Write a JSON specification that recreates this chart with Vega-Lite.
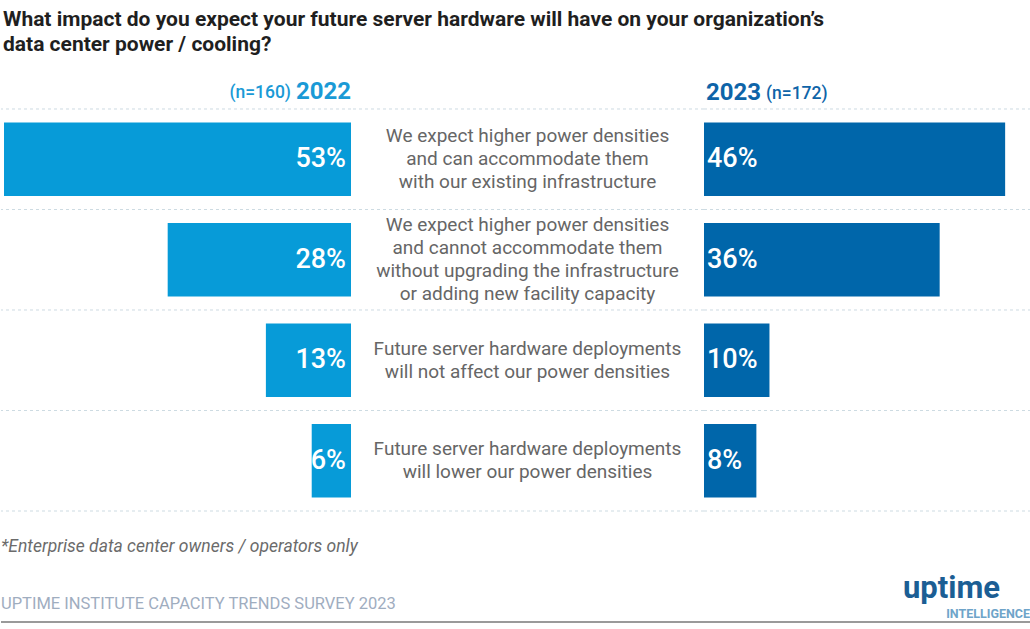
{
  "$schema": "https://vega.github.io/schema/vega-lite/v6.json",
  "padding": {"top": 8, "left": 0, "right": 0, "bottom": 0},
  "background": "white",
  "title": {
    "text": ["What impact do you expect your future server hardware will have on your organization’s", "data center power / cooling?"],
    "anchor": "start",
    "font": "Roboto",
    "fontSize": 21,
    "fontWeight": "bold",
    "color": "#1f1f1f",
    "lineHeight": 25,
    "dx": 3,
    "offset": 25
  },
  "datasets": {
    "rows": [
      {"answer": "We expect higher power densities and can accommodate them with our existing infrastructure", "lines": ["We expect higher power densities", "and can accommodate them", "with our existing infrastructure"], "y2022": 0.53, "y2023": 0.46},
      {"answer": "We expect higher power densities and cannot accommodate them without upgrading the infrastructure or adding new facility capacity", "lines": ["We expect higher power densities", "and cannot accommodate them", "without upgrading the infrastructure", "or adding new facility capacity"], "y2022": 0.28, "y2023": 0.36},
      {"answer": "Future server hardware deployments will not affect our power densities", "lines": ["Future server hardware deployments", "will not affect our power densities"], "y2022": 0.13, "y2023": 0.10},
      {"answer": "Future server hardware deployments will lower our power densities", "lines": ["Future server hardware deployments", "will lower our power densities"], "y2022": 0.06, "y2023": 0.08}
    ]
  },
  "vconcat": [
    {
      "spacing": 0,
      "bounds": "flush",
      "hconcat": [
        {
          "width": 350,
          "height": 402,
          "data": {"name": "rows"},
          "layer": [
            {
              "mark": {"type": "rule", "color": "#cddbe2", "strokeDash": [3, 3], "strokeWidth": 1, "yOffset": -13.57},
              "encoding": {"y": {"field": "answer", "type": "nominal", "sort": null, "bandPosition": 0, "axis": null, "scale": {"paddingInner": 0.27, "paddingOuter": 0.135}}}
            },
            {
              "data": {"values": [{"k": 1}]},
              "mark": {"type": "rule", "color": "#cddbe2", "strokeDash": [3, 3], "strokeWidth": 1, "yOffset": 13.57},
              "encoding": {"y": {"datum": "Future server hardware deployments will lower our power densities", "type": "nominal", "bandPosition": 1}}
            },
            {
              "mark": {"type": "bar", "color": "#079bd8"},
              "encoding": {
                "y": {"field": "answer", "type": "nominal", "sort": null},
                "x": {"field": "y2022", "type": "quantitative", "axis": null, "scale": {"domain": [0, 0.5346], "nice": false, "reverse": true}}
              }
            },
            {
              "mark": {"type": "text", "align": "right", "baseline": "middle", "dx": -5, "color": "white", "font": "Roboto", "fontSize": 27, "fontWeight": 500},
              "encoding": {
                "y": {"field": "answer", "type": "nominal", "sort": null},
                "x": {"datum": 0, "type": "quantitative"},
                "text": {"field": "y2022", "type": "quantitative", "format": ".0%"}
              }
            },
            {
              "data": {"values": [{"year": "2022", "n": "(n=160)"}]},
              "layer": [
                {
                  "mark": {"type": "text", "align": "right", "baseline": "middle", "dy": -31, "color": "#1a9ad6", "font": "Roboto", "fontSize": 24, "fontWeight": "bold"},
                  "encoding": {
                    "y": {"datum": "We expect higher power densities and can accommodate them with our existing infrastructure", "type": "nominal", "bandPosition": 0},
                    "x": {"datum": 0, "type": "quantitative"},
                    "text": {"field": "year"}
                  }
                },
                {
                  "mark": {"type": "text", "align": "right", "baseline": "middle", "dy": -30, "dx": -60, "color": "#1a9ad6", "font": "Roboto", "fontSize": 17.5, "fontWeight": 500},
                  "encoding": {
                    "y": {"datum": "We expect higher power densities and can accommodate them with our existing infrastructure", "type": "nominal", "bandPosition": 0},
                    "x": {"datum": 0, "type": "quantitative"},
                    "text": {"field": "n"}
                  }
                }
              ]
            }
          ]
        },
        {
          "width": 353,
          "height": 402,
          "data": {"name": "rows"},
          "layer": [
            {
              "mark": {"type": "rule", "color": "#cddbe2", "strokeDash": [3, 3], "strokeWidth": 1, "yOffset": -13.57},
              "encoding": {"y": {"field": "answer", "type": "nominal", "sort": null, "bandPosition": 0, "axis": null, "scale": {"paddingInner": 0.27, "paddingOuter": 0.135}}}
            },
            {
              "data": {"values": [{"k": 1}]},
              "mark": {"type": "rule", "color": "#cddbe2", "strokeDash": [3, 3], "strokeWidth": 1, "yOffset": 13.57},
              "encoding": {"y": {"datum": "Future server hardware deployments will lower our power densities", "type": "nominal", "bandPosition": 1}}
            },
            {
              "transform": [{"filter": "length(datum.lines) == 2"}],
              "mark": {"type": "text", "align": "center", "baseline": "middle", "dy": -11.5, "lineHeight": 23, "color": "#666666", "font": "Roboto", "fontSize": 19},
              "encoding": {
                "y": {"field": "answer", "type": "nominal", "sort": null},
                "text": {"field": "lines", "type": "nominal"}
              }
            },
            {
              "transform": [{"filter": "length(datum.lines) == 3"}],
              "mark": {"type": "text", "align": "center", "baseline": "middle", "dy": -23, "lineHeight": 23, "color": "#666666", "font": "Roboto", "fontSize": 19},
              "encoding": {
                "y": {"field": "answer", "type": "nominal", "sort": null},
                "text": {"field": "lines", "type": "nominal"}
              }
            },
            {
              "transform": [{"filter": "length(datum.lines) == 4"}],
              "mark": {"type": "text", "align": "center", "baseline": "middle", "dy": -34.5, "lineHeight": 23, "color": "#666666", "font": "Roboto", "fontSize": 19},
              "encoding": {
                "y": {"field": "answer", "type": "nominal", "sort": null},
                "text": {"field": "lines", "type": "nominal"}
              }
            }
          ]
        },
        {
          "width": 327,
          "height": 402,
          "data": {"name": "rows"},
          "layer": [
            {
              "mark": {"type": "rule", "color": "#cddbe2", "strokeDash": [3, 3], "strokeWidth": 1, "yOffset": -13.57},
              "encoding": {"y": {"field": "answer", "type": "nominal", "sort": null, "bandPosition": 0, "axis": null, "scale": {"paddingInner": 0.27, "paddingOuter": 0.135}}}
            },
            {
              "data": {"values": [{"k": 1}]},
              "mark": {"type": "rule", "color": "#cddbe2", "strokeDash": [3, 3], "strokeWidth": 1, "yOffset": 13.57},
              "encoding": {"y": {"datum": "Future server hardware deployments will lower our power densities", "type": "nominal", "bandPosition": 1}}
            },
            {
              "mark": {"type": "bar", "color": "#0066aa"},
              "encoding": {
                "y": {"field": "answer", "type": "nominal", "sort": null},
                "x": {"field": "y2023", "type": "quantitative", "axis": null, "scale": {"domain": [0, 0.4995], "nice": false}}
              }
            },
            {
              "mark": {"type": "text", "align": "left", "baseline": "middle", "dx": 3, "color": "white", "font": "Roboto", "fontSize": 27, "fontWeight": 500},
              "encoding": {
                "y": {"field": "answer", "type": "nominal", "sort": null},
                "x": {"datum": 0, "type": "quantitative"},
                "text": {"field": "y2023", "type": "quantitative", "format": ".0%"}
              }
            },
            {
              "data": {"values": [{"year": "2023", "n": "(n=172)"}]},
              "layer": [
                {
                  "mark": {"type": "text", "align": "left", "baseline": "middle", "dy": -30, "dx": 2, "color": "#0e64a8", "font": "Roboto", "fontSize": 24, "fontWeight": "bold"},
                  "encoding": {
                    "y": {"datum": "We expect higher power densities and can accommodate them with our existing infrastructure", "type": "nominal", "bandPosition": 0},
                    "x": {"datum": 0, "type": "quantitative"},
                    "text": {"field": "year"}
                  }
                },
                {
                  "mark": {"type": "text", "align": "left", "baseline": "middle", "dy": -29, "dx": 62, "color": "#0e64a8", "font": "Roboto", "fontSize": 17.5, "fontWeight": 500},
                  "encoding": {
                    "y": {"datum": "We expect higher power densities and can accommodate them with our existing infrastructure", "type": "nominal", "bandPosition": 0},
                    "x": {"datum": 0, "type": "quantitative"},
                    "text": {"field": "n"}
                  }
                }
              ]
            }
          ]
        }
      ]
    },
    {
      "width": 1030,
      "height": 54,
      "title": {
        "text": "*Enterprise data center owners / operators only",
        "subtitle": "UPTIME INSTITUTE CAPACITY TRENDS SURVEY 2023",
        "anchor": "start",
        "frame": "group",
        "font": "Roboto",
        "fontSize": 17.5,
        "fontStyle": "italic",
        "fontWeight": "normal",
        "color": "#6b6b6b",
        "subtitleFont": "Roboto",
        "subtitleFontSize": 16.5,
        "subtitleColor": "#9fadbf",
        "subtitlePadding": 40,
        "offset": -44
      },
      "data": {"values": [{"logo": "uptime", "sub": "INTELLIGENCE"}]},
      "layer": [
        {
          "mark": {"type": "rule", "color": "#9a9a9a", "strokeWidth": 2},
          "encoding": {"y": {"value": "height"}, "x": {"value": 0}, "x2": {"value": "width"}}
        },
        {
          "mark": {"type": "text", "align": "right", "baseline": "alphabetic", "dx": -31, "dy": -24, "color": "#1b5e94", "font": "Roboto", "fontSize": 31, "fontWeight": "bold"},
          "encoding": {"x": {"value": "width"}, "y": {"value": "height"}, "text": {"field": "logo"}}
        },
        {
          "mark": {"type": "text", "align": "right", "baseline": "alphabetic", "dx": -1, "dy": -4, "color": "#6ea4c9", "font": "Roboto", "fontSize": 12.5, "fontWeight": "bold", "letterSpacing": 3.5},
          "encoding": {"x": {"value": "width"}, "y": {"value": "height"}, "text": {"field": "sub"}}
        }
      ]
    }
  ],
  "spacing": 26,
  "config": {
    "view": {"stroke": null},
    "concat": {"spacing": 0}
  }
}
